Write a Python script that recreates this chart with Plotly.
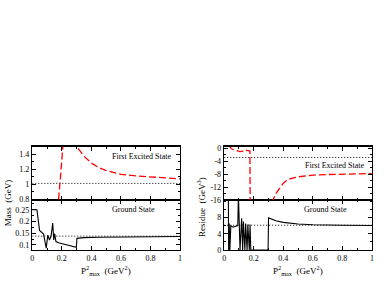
import plotly.graph_objects as go

# ---------------- data ----------------
# Left, top: first excited state mass (GeV)
mass_exc_x = [0.16, 0.17, 0.178, 0.19, 0.2, 0.207, 0.215, None,
              0.29, 0.30, 0.32, 0.35, 0.40, 0.45, 0.50, 0.60, 0.70, 0.80, 0.90, 1.00]
mass_exc_y = [0.40, 0.60, 0.79, 1.08, 1.33, 1.50, 1.70, None,
              1.60, 1.50, 1.45, 1.37, 1.28, 1.22, 1.18, 1.13, 1.11, 1.095, 1.08, 1.07]
mass_exc_ref = 1.01

# Left, bottom: ground state mass (GeV)
mass_gs_x = [0.0, 0.031, 0.049, 0.076, 0.094, 0.105, 0.116, 0.127, 0.138, 0.145, 0.151, 0.16,
             0.183, 0.24, 0.298, 0.302, 0.35, 0.45, 0.6, 0.8, 1.0]
mass_gs_y = [0.25, 0.25, 0.162, 0.146, 0.086, 0.142, 0.121, 0.138, 0.193, 0.121, 0.148, 0.114,
             0.108, 0.099, 0.09, 0.128, 0.131, 0.133, 0.134, 0.135, 0.136]
mass_gs_ref = 0.1375

# Right, top: first excited state residue
res_exc_x = [0.03, 0.047, 0.07, 0.09, 0.107, 0.125, 0.14, 0.155, 0.163, 0.174, 0.176, None,
             0.32, 0.33, 0.35, 0.375, 0.40, 0.43, 0.47, 0.52, 0.60, 0.70, 0.80, 0.90, 1.00]
res_exc_y = [1.0, 0.0, -0.5, -0.9, -1.0, -0.8, -0.4, -0.6, -0.7, -0.8, -20.0, None,
             -20.0, -16.0, -14.0, -12.2, -10.8, -9.7, -9.1, -8.7, -8.3, -8.1, -8.0, -7.9, -7.8]
res_exc_ref = -2.8

# Right, bottom: ground state residue
res_gs_x = [0.0, 0.028, 0.03, 0.034, 0.038, 0.045, 0.06, 0.08, 0.092, 0.096, 0.107, 0.118,
            0.125, 0.13, 0.14, 0.145, 0.155, 0.16, 0.17, 0.175, 0.18, 0.297, 0.30, 0.35,
            0.40, 0.50, 0.60, 0.80, 1.00]
res_gs_y = [14.0, 14.0, 0.0, 6.5, 0.0, 6.0, 5.6, 5.8, 6.0, 14.0, 0.0, 7.8,
            0.0, 7.0, 0.0, 6.5, 0.0, 6.3, 0.0, 6.3, 0.0, 0.0, 7.9, 7.2,
            6.8, 6.4, 6.2, 6.1, 6.05]
res_gs_ref = 6.1

x_tickvals = [0, 0.2, 0.4, 0.6, 0.8, 1]
x_ticktext = ["0", "0.2", "0.4", "0.6", "0.8", "1"]
mass_exc_tickvals = [0.8, 1.0, 1.2, 1.4]
mass_exc_ticktext = ["0.8", "1", "1.2", "1.4"]
mass_gs_tickvals = [0.1, 0.15, 0.2, 0.25]
mass_gs_ticktext = ["0.1", "0.15", "0.2", "0.25"]
res_exc_tickvals = [0, -4, -8, -12, -16]
res_exc_ticktext = ["0", "-4", "-8", "-12", "-16"]
res_gs_tickvals = [0, 4, 8]
res_gs_ticktext = ["0", "4", "8"]

# ---------------- figure ----------------
FONT = "Liberation Serif"
RED = "#ff0000"

fig = go.Figure()

def add_line(x, y, xa, ya, color, dash, width=1.3):
    fig.add_trace(go.Scatter(x=x, y=y, xaxis=xa, yaxis=ya, mode="lines",
                             line=dict(color=color, dash=dash, width=width),
                             connectgaps=False, showlegend=False, hoverinfo="skip"))

# dotted reference lines
add_line([0, 1], [mass_exc_ref] * 2, "x2", "y2", "black", "1px,2px", 1.0)
add_line([0, 1], [mass_gs_ref] * 2, "x", "y", "black", "1px,2px", 1.0)
add_line([0, 1], [res_exc_ref] * 2, "x4", "y4", "black", "1px,2px", 1.0)
add_line([0, 1], [res_gs_ref] * 2, "x3", "y3", "black", "1px,2px", 1.0)

# curves
add_line(mass_exc_x, mass_exc_y, "x2", "y2", RED, "7px,3px")
add_line(mass_gs_x, mass_gs_y, "x", "y", "black", "solid", 1.1)
add_line(res_exc_x, res_exc_y, "x4", "y4", RED, "7px,3px")
add_line(res_gs_x, res_gs_y, "x3", "y3", "black", "solid", 1.1)

L_DOM = [0.079, 0.465]
R_DOM = [0.58, 0.966]
BOT_DOM = [0.1505, 0.322]
TOP_DOM = [0.322, 0.505]

axis_common = dict(showline=True, linecolor="black", linewidth=1.4, mirror="ticks",
                   ticks="inside", ticklen=4, tickwidth=1, tickcolor="black",
                   showgrid=False, zeroline=False, ticklabeloverflow="allow",
                   tickfont=dict(family=FONT, size=8, color="black"))

def xaxis(domain, anchor, labels):
    d = dict(axis_common)
    d.update(domain=domain, anchor=anchor, range=[-0.0005, 1.0005], tickmode="array",
             tickvals=x_tickvals, ticktext=x_ticktext, showticklabels=labels,
             minor=dict(ticks="inside", ticklen=2, tickcolor="black", dtick=0.1, tick0=0,
                        showgrid=False))
    return d

def yaxis(domain, anchor, rng, tv, tt, mdt, mt0):
    d = dict(axis_common)
    d.update(domain=domain, anchor=anchor, range=rng, tickmode="array",
             tickvals=tv, ticktext=tt,
             minor=dict(ticks="inside", ticklen=2, tickcolor="black", dtick=mdt, tick0=mt0,
                        showgrid=False))
    return d

fig.update_layout(
    width=387, height=299,
    margin=dict(l=0, r=0, t=0, b=0),
    paper_bgcolor="white", plot_bgcolor="white",
    xaxis=xaxis(L_DOM, "y", True),
    yaxis=yaxis(BOT_DOM, "x", [0.078, 0.292], mass_gs_tickvals, mass_gs_ticktext, 0.025, 0.1),
    xaxis2=xaxis(L_DOM, "y2", False),
    yaxis2=yaxis(TOP_DOM, "x2", [0.79, 1.5], mass_exc_tickvals, mass_exc_ticktext, 0.1, 0.8),
    xaxis3=xaxis(R_DOM, "y3", True),
    yaxis3=yaxis(BOT_DOM, "x3", [0, 12.3], res_gs_tickvals, res_gs_ticktext, 2, 0),
    xaxis4=xaxis(R_DOM, "y4", False),
    yaxis4=yaxis(TOP_DOM, "x4", [-16, 0.6], res_exc_tickvals, res_exc_ticktext, 2, 0),
)

def ann(text, x, y, size=8, angle=0):
    fig.add_annotation(text=text, x=x, y=y, xref="paper", yref="paper",
                       xanchor="center", yanchor="middle", showarrow=False,
                       textangle=angle, font=dict(family=FONT, size=size, color="black"))

ann("First Excited State", 141 / 387, 1 - 158 / 299)
ann("Ground State", 133 / 387, 1 - 212.5 / 299)
ann("First Excited State", 336 / 387, 1 - 167 / 299)
ann("Ground State", 327 / 387, 1 - 212 / 299)

ann("Mass  (GeV)", 6 / 387, 1 - 205 / 299, 9, -90)
ann("Residue  (GeV<sup>3</sup>)", 201 / 387, 1 - 210 / 299, 9, -90)
ann("P<sup>2</sup><sub>max</sub>  (GeV<sup>2</sup>)", 105 / 387, 1 - 275 / 299, 9)
ann("P<sup>2</sup><sub>max</sub>  (GeV<sup>2</sup>)", 299 / 387, 1 - 275 / 299, 9)

fig.write_html("out.html",
               config={"displayModeBar": False, "staticPlot": True},
               post_script="document.body.style.margin='0';document.body.style.overflow='hidden';")
